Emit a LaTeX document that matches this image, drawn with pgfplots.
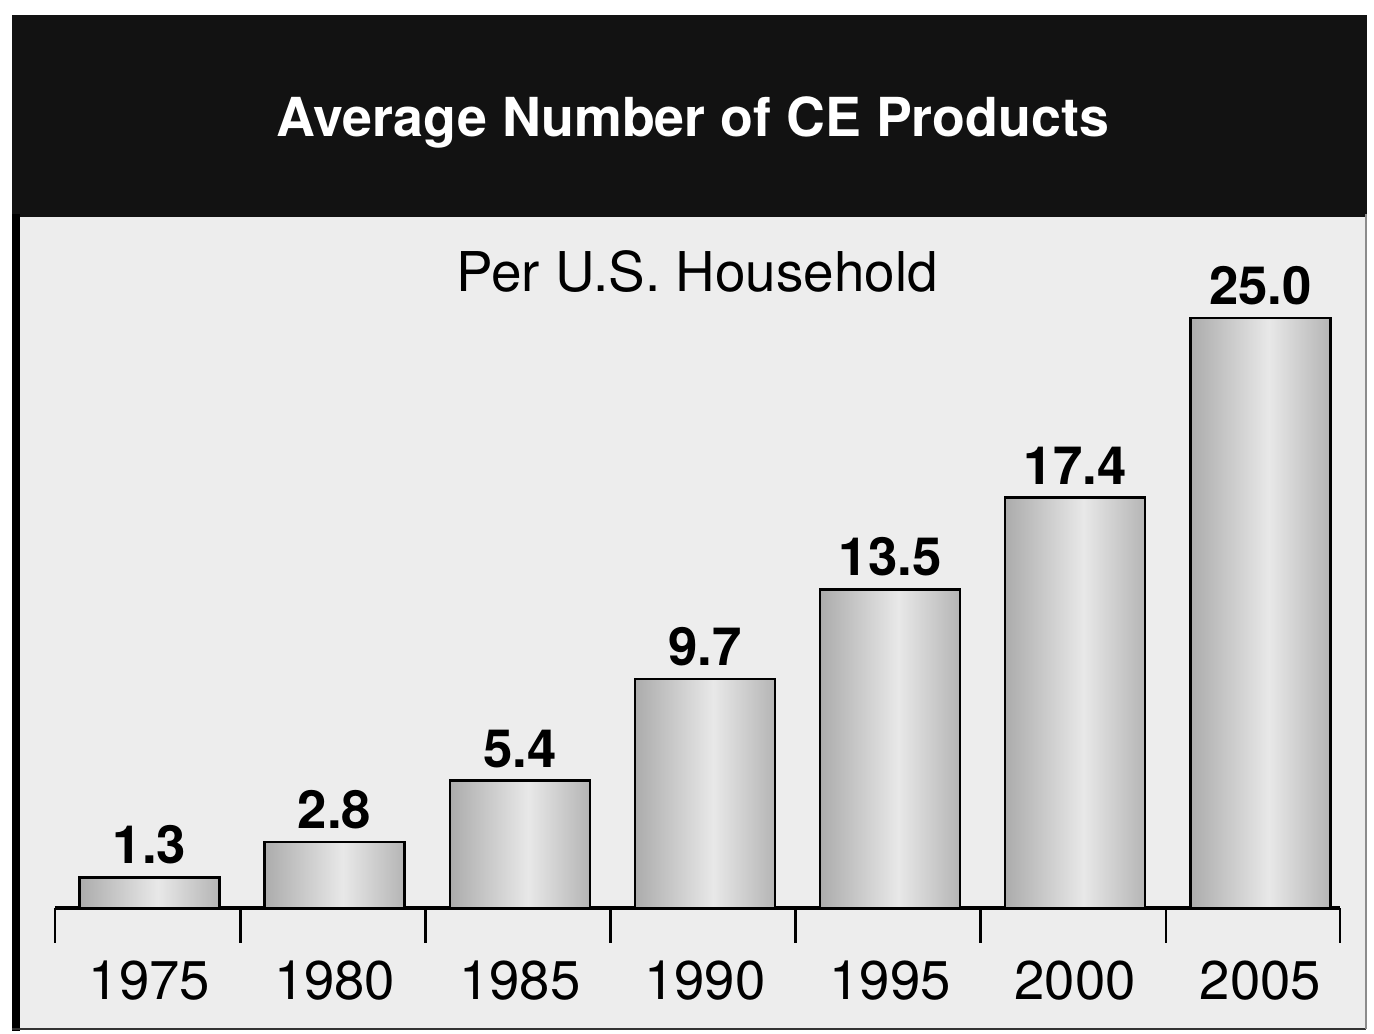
\documentclass[border=0pt]{standalone}
\usepackage{fontspec}
\setmainfont{TeX Gyre Heros}
\usepackage{pgfplots}
\pgfplotsset{compat=1.18}

% metallic look across each bar
\pgfdeclarehorizontalshading{metal}{100bp}{color(0bp)=(black!50); color(14bp)=(black!42); color(53bp)=(black!9); color(76bp)=(black!30); color(100bp)=(black!52)}

\pgfplotsset{metalbar/.style={draw=black, line width=0.7pt, shade, shading=metal, bar shift=0pt}}

\begin{document}
\begin{tikzpicture}
\path[use as bounding box] (0,0) rectangle (13.74,10.34);
\fill[white] (0,0) rectangle (13.74,10.34);
% panel and header band
\fill[black!7] (0.14,0.04) rectangle (13.66,8.2);
\fill[black!93] (0.12,8.17) rectangle (13.67,10.19);
\fill[black] (0.12,0.03) rectangle (0.20,8.2);
\draw[black!80, line width=0.8pt] (0.12,0.05) -- (13.66,0.05);
\draw[black!45, line width=0.5pt] (13.66,0.05) -- (13.66,8.2);

\node[white, anchor=base, font=\bfseries\fontsize{15.3}{18}\selectfont] at (6.93,8.97) {Average Number of CE Products};
\node[black, anchor=base, font=\fontsize{15.6}{18}\selectfont] at (6.97,7.42) {Per U.S. Household};

\begin{axis}[
    at={(0.55cm,1.26cm)}, anchor=south west,
    scale only axis,
    width=12.85cm, height=6.254cm,
    xmin=-0.51, xmax=6.43,
    ymin=0, ymax=26.5,
    axis x line*=bottom,
    axis y line=none,
    x axis line style={-, line width=0.9pt, black},
    xtick={0,...,6},
    xticklabels={1975,1980,1985,1990,1995,2000,2005},
    major tick length=0pt,
    minor xtick={-0.51,0.49,1.49,2.49,3.49,4.49,5.49,6.43},
    minor tick length=0.35cm,
    tick align=outside,
    minor tick style={line width=0.8pt, black},
    xticklabel style={anchor=base, yshift=-0.92cm, font=\fontsize{15.5}{18}\selectfont},
    clip=false,
    ybar,
    bar width=1.4cm,
    nodes near coords,
    point meta=explicit symbolic,
    nodes near coords style={font=\bfseries\fontsize{15}{18}\selectfont, black},
]
\addplot[metalbar] coordinates {(0,1.3) [1.3]};
\addplot[metalbar] coordinates {(1,2.8) [2.8]};
\addplot[metalbar] coordinates {(2,5.4) [5.4]};
\addplot[metalbar] coordinates {(3,9.7) [9.7]};
\addplot[metalbar] coordinates {(4,13.5) [13.5]};
\addplot[metalbar] coordinates {(5,17.4) [17.4]};
\addplot[metalbar] coordinates {(6,25.0) [25.0]};
\end{axis}
\end{tikzpicture}
\end{document}
